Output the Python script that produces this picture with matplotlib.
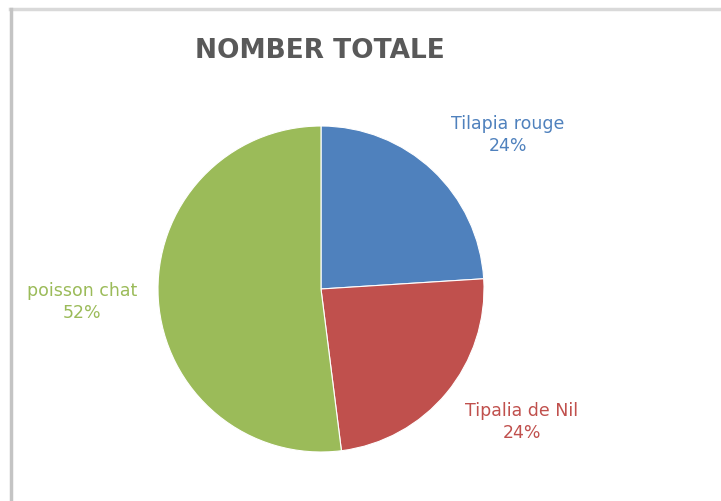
import matplotlib
matplotlib.use("Agg")
import matplotlib.pyplot as plt
from matplotlib.lines import Line2D

categories = ["Tilapia rouge", "Tipalia de Nil", "poisson chat"]
values = [24, 24, 52]
colors = ["#4F81BD", "#C0504D", "#9BBB59"]
title = "NOMBER TOTALE"

W, H = 721, 501
fig = plt.figure(figsize=(W / 100, H / 100), dpi=100)
fig.patch.set_facecolor("white")

# frame lines (top and left)
fig.add_artist(Line2D([10 / W, 1], [1 - 9 / H, 1 - 9 / H], color="#d9d9d9", lw=2.5))
fig.add_artist(Line2D([11 / W, 11 / W], [0, 1 - 9 / H], color="#c4c4c4", lw=2.5))

cx, cy, r = 321, 289, 163
ax = fig.add_axes([(cx - r) / W, (H - cy - r) / H, 2 * r / W, 2 * r / H])
wedges, _ = ax.pie(values, colors=colors, startangle=90, counterclock=False,
                   radius=1.0, wedgeprops=dict(linewidth=0.8, edgecolor="white"))
ax.set_xlim(-1, 1)
ax.set_ylim(-1, 1)
ax.set_aspect("equal")
ax.axis("off")

label_pos = [(1.147, 0.945), (1.233, -0.816), (-1.466, -0.08)]
fam = ["DejaVu Sans"]
for cat, v, c, (lx, ly) in zip(categories, values, colors, label_pos):
    ax.text(lx, ly, f"{cat}\n{v}%", color=c, ha="center", va="center",
            fontsize=12.5, family=fam, linespacing=1.3, clip_on=False)

fig.text(320 / W, 1 - 51 / H, title, color="#595959", fontsize=19, fontweight="bold",
         family=fam, ha="center", va="center")

fig.savefig("out.png", dpi=100)
